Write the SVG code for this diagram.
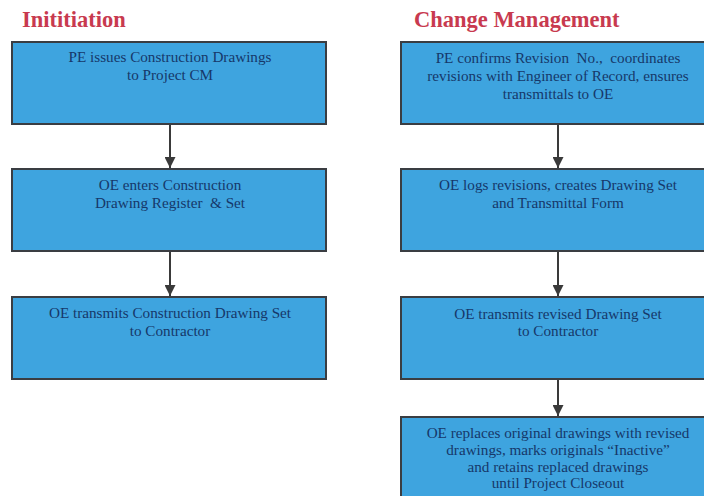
<svg xmlns="http://www.w3.org/2000/svg" width="704" height="496" viewBox="0 0 704 496">
<style>
.box{fill:#3ea4df;stroke:#3a3d42;stroke-width:2}
.t{font-family:"Liberation Serif",serif;font-size:15.2px;fill:#16386a;text-anchor:middle;white-space:pre}
.h{font-family:"Liberation Serif",serif;font-size:22.5px;font-weight:bold;fill:#c83a4f}
.c{stroke:#3a3a3a;stroke-width:2;fill:none}
</style>
<defs>
<marker id="ah" viewBox="0 0 10 10" refX="10" refY="5" markerWidth="5.5" markerHeight="5.5" orient="auto" markerUnits="strokeWidth">
<path d="M0,0L10,5L0,10z" fill="#3a3a3a"/>
</marker>
</defs>
<rect width="704" height="496" fill="#ffffff"/>
<text class="h" x="22" y="27">Inititiation</text>
<text class="h" x="414" y="27">Change Management</text>
<g id="l1"><rect class="box" x="12" y="42" width="314" height="82"/>
<text class="t" x="170" y="62">PE issues Construction Drawings</text>
<text class="t" x="170" y="80">to Project CM</text></g>
<g id="l2"><rect class="box" x="12" y="169" width="314" height="82"/>
<text class="t" x="170" y="190">OE enters Construction</text>
<text class="t" x="170" y="208">Drawing Register  &amp; Set</text></g>
<g id="l3"><rect class="box" x="12" y="297" width="314" height="82"/>
<text class="t" x="170" y="318">OE transmits Construction Drawing Set</text>
<text class="t" x="170" y="336">to Contractor</text></g>
<g id="r1"><rect class="box" x="401" y="42" width="320" height="82"/>
<text class="t" x="558" y="63">PE confirms Revision  No.,  coordinates</text>
<text class="t" x="558" y="81">revisions with Engineer of Record, ensures</text>
<text class="t" x="558" y="99">transmittals to OE</text></g>
<g id="r2"><rect class="box" x="401" y="169" width="320" height="82"/>
<text class="t" x="558" y="190">OE logs revisions, creates Drawing Set</text>
<text class="t" x="558" y="208">and Transmittal Form</text></g>
<g id="r3"><rect class="box" x="401" y="297" width="320" height="82"/>
<text class="t" x="558" y="319">OE transmits revised Drawing Set</text>
<text class="t" x="558" y="336">to Contractor</text></g>
<g id="r4"><rect class="box" x="401" y="417" width="320" height="90"/>
<text class="t" x="558" y="438">OE replaces original drawings with revised</text>
<text class="t" x="558" y="455">drawings, marks originals “Inactive”</text>
<text class="t" x="558" y="472">and retains replaced drawings</text>
<text class="t" x="558" y="488">until Project Closeout</text></g>
<g id="connectors">
<line class="c" x1="170" y1="125" x2="170" y2="168" marker-end="url(#ah)"/>
<line class="c" x1="170" y1="252" x2="170" y2="296" marker-end="url(#ah)"/>
<line class="c" x1="558" y1="125" x2="558" y2="168" marker-end="url(#ah)"/>
<line class="c" x1="558" y1="252" x2="558" y2="296" marker-end="url(#ah)"/>
<line class="c" x1="558" y1="380" x2="558" y2="416" marker-end="url(#ah)"/>
</g>
</svg>
